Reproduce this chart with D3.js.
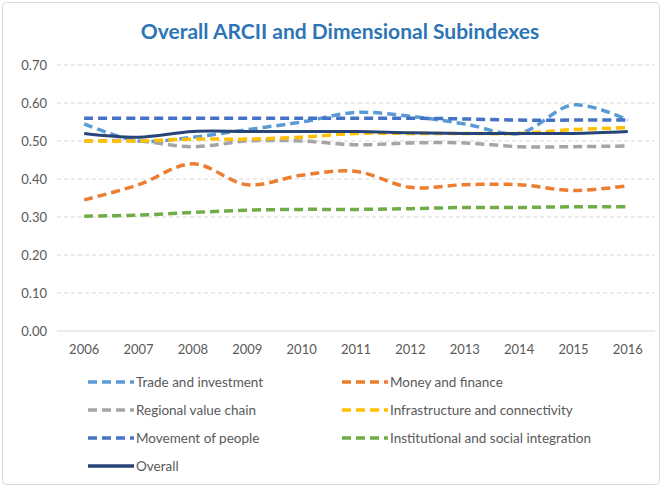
<!DOCTYPE html>
<html>
<head>
<meta charset="utf-8">
<script src="https://cdn.jsdelivr.net/npm/d3@7"></script>
<style>
  body { margin: 0; background: #fff; }
  text { font-family: Lato, "Open Sans", sans-serif; }
</style>
</head>
<body>
<svg id="chart" width="663" height="488"></svg>
<script>
(function() {
  'use strict';

  var years = ['2006', '2007', '2008', '2009', '2010', '2011', '2012', '2013', '2014', '2015', '2016'];
  var yTicks = [0, 0.1, 0.2, 0.3, 0.4, 0.5, 0.6, 0.7];

  var tradeInvestment = [0.545, 0.500, 0.510, 0.530, 0.550, 0.575, 0.565, 0.545, 0.520, 0.595, 0.555];
  var moneyFinance = [0.345, 0.385, 0.440, 0.385, 0.410, 0.420, 0.378, 0.385, 0.385, 0.370, 0.382];
  var valueChain = [0.500, 0.500, 0.485, 0.500, 0.500, 0.490, 0.495, 0.495, 0.485, 0.485, 0.487];
  var infrastructure = [0.500, 0.500, 0.505, 0.505, 0.510, 0.520, 0.520, 0.520, 0.520, 0.530, 0.535];
  var movementPeople = [0.560, 0.560, 0.560, 0.560, 0.560, 0.560, 0.560, 0.558, 0.555, 0.555, 0.555];
  var institutional = [0.302, 0.305, 0.312, 0.318, 0.320, 0.320, 0.322, 0.325, 0.325, 0.327, 0.327];
  var overall = [0.520, 0.510, 0.525, 0.525, 0.525, 0.525, 0.522, 0.520, 0.520, 0.520, 0.525];

  var series = [
    { name: 'Trade and investment', values: tradeInvestment, color: '#5B9BD5', dashed: true },
    { name: 'Money and finance', values: moneyFinance, color: '#ED7D31', dashed: true },
    { name: 'Regional value chain', values: valueChain, color: '#A5A5A5', dashed: true },
    { name: 'Infrastructure and connectivity', values: infrastructure, color: '#FFC000', dashed: true },
    { name: 'Movement of people', values: movementPeople, color: '#4472C4', dashed: true },
    { name: 'Institutional and social integration', values: institutional, color: '#70AD47', dashed: true },
    { name: 'Overall', values: overall, color: '#264478', dashed: false }
  ];

  var svg = d3.select('#chart');

  // outer frame
  svg.append('rect')
    .attr('x', 2.5).attr('y', 2.5)
    .attr('width', 657).attr('height', 482)
    .attr('rx', 4)
    .attr('fill', '#fff')
    .attr('stroke', '#D9D9D9');

  svg.append('text')
    .attr('x', 340).attr('y', 39)
    .attr('text-anchor', 'middle')
    .attr('font-size', 21)
    .attr('font-weight', 'bold')
    .attr('fill', '#2E75B6')
    .text('Overall ARCII and Dimensional Subindexes');

  var x = d3.scaleBand().domain(years).range([57, 655]);
  var y = d3.scaleLinear().domain([0, 0.7]).range([331, 65]);

  var grid = svg.append('g').attr('class', 'grid');
  grid.selectAll('line')
    .data(yTicks.filter(function(d) { return d > 0; }))
    .enter().append('line')
    .attr('x1', 57).attr('x2', 655)
    .attr('y1', function(d) { return y(d); })
    .attr('y2', function(d) { return y(d); })
    .attr('stroke', '#D9D9D9')
    .attr('stroke-width', 1)
    .attr('stroke-dasharray', '4,3');

  svg.append('line')
    .attr('x1', 57).attr('x2', 655)
    .attr('y1', y(0)).attr('y2', y(0))
    .attr('stroke', '#D9D9D9');

  var yAxis = svg.append('g')
    .attr('transform', 'translate(50,0)')
    .call(d3.axisLeft(y).tickValues(yTicks).tickSize(0).tickFormat(d3.format('.2f')));
  yAxis.select('.domain').remove();
  yAxis.selectAll('text')
    .attr('font-size', 13)
    .attr('fill', '#595959')
    .style('font-family', 'Lato, sans-serif');

  var xAxis = svg.append('g')
    .attr('transform', 'translate(0,' + y(0) + ')')
    .call(d3.axisBottom(x).tickSize(0).tickPadding(14));
  xAxis.select('.domain').remove();
  xAxis.selectAll('text')
    .attr('font-size', 13)
    .attr('fill', '#595959')
    .style('font-family', 'Lato, sans-serif');

  var line = d3.line()
    .x(function(d, i) { return x(years[i]) + x.bandwidth() / 2; })
    .y(function(d) { return y(d); })
    .curve(d3.curveCatmullRom.alpha(0.5));

  svg.append('g').selectAll('path')
    .data(series)
    .enter().append('path')
    .attr('d', function(d) { return line(d.values); })
    .attr('fill', 'none')
    .attr('stroke', function(d) { return d.color; })
    .attr('stroke-width', function(d) { return d.dashed ? 3.5 : 3; })
    .attr('stroke-dasharray', function(d) { return d.dashed ? '9,5' : null; });

  // legend, two columns
  var legend = svg.append('g').selectAll('g')
    .data(series)
    .enter().append('g')
    .attr('transform', function(d, i) {
      return 'translate(' + (i % 2 === 0 ? 88 : 342) + ',' + (382 + Math.floor(i / 2) * 28) + ')';
    });

  legend.append('line')
    .attr('x1', 0).attr('x2', 46)
    .attr('y1', 0).attr('y2', 0)
    .attr('stroke', function(d) { return d.color; })
    .attr('stroke-width', 3.5)
    .attr('stroke-dasharray', function(d) { return d.dashed ? '9,5' : null; });

  legend.append('text')
    .attr('x', 48).attr('y', 5)
    .attr('font-size', 13.5)
    .attr('fill', '#595959')
    .text(function(d) { return d.name; });
})();
</script>
</body>
</html>
